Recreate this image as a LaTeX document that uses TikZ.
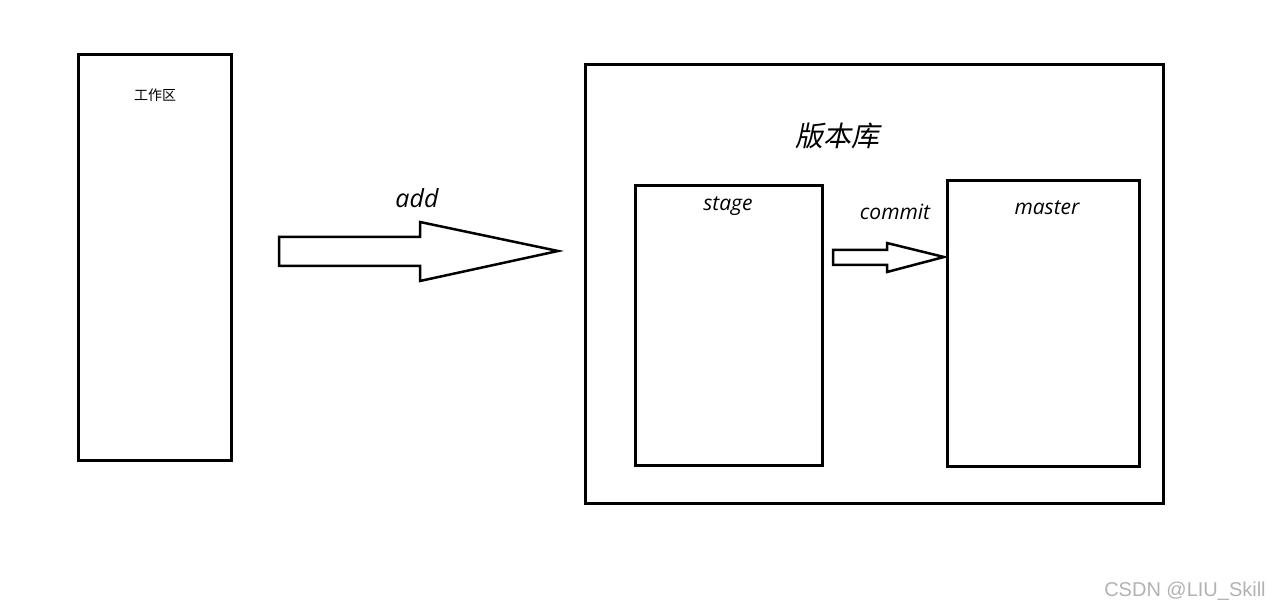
\documentclass[tikz,border=0pt]{standalone}
\usepackage{fontspec}
\setmainfont{Open Sans}
\newfontfamily\cjk{Noto Sans CJK SC}
\newfontfamily\cjkit[FakeSlant=0.2]{Noto Sans CJK SC}
\newfontfamily\wmark{Liberation Sans}
\begin{document}
\begin{tikzpicture}[x=1pt,y=-1pt,line join=miter]
\useasboundingbox (0,0) rectangle (1280,612);
\draw[line width=3pt] (78,55) rectangle (231,460);
\node (wk) at (155,95) {\cjk\fontsize{14}{16}\selectfont 工作区};
\draw[line width=3pt] (585,65) rectangle (1163,503);
\node (repo) at (837,136) {\cjkit\fontsize{28}{32}\selectfont 版本库};
\draw[line width=3pt] (635,186) rectangle (822,465);
\node (stage) at (728,206) {\fontsize{21}{25}\selectfont\itshape stage};
\draw[line width=3pt] (947,181) rectangle (1139,466);
\node (master) at (1047,208) {\fontsize{21}{25}\selectfont\itshape master};
\draw[line width=2.5pt] (279,237) -- (420,237) -- (420,222) -- (558,251) -- (420,281) -- (420,266) -- (279,266) -- cycle;
\node (add) at (417,198) {\fontsize{25}{29}\selectfont\itshape add};
\draw[line width=2.5pt] (833,250) -- (887,250) -- (887,243) -- (944,257) -- (887,272) -- (887,265) -- (833,265) -- cycle;
\node (commit) at (895,212) {\fontsize{21}{25}\selectfont\itshape commit};
\node[text=black!30] (csdn) at (1185,591) {\wmark\fontsize{20}{23}\selectfont CSDN @LIU\_Skill};
\end{tikzpicture}
\end{document}
